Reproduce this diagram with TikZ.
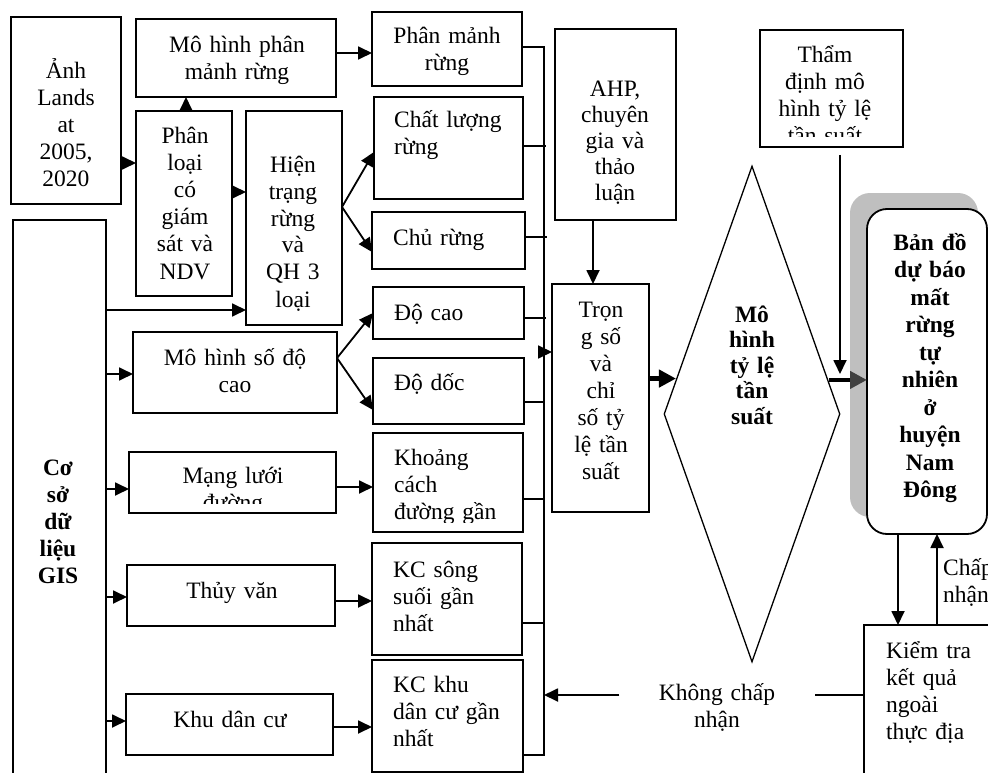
\documentclass[tikz,border=0pt]{standalone}
\usepackage{fontspec}
\setmainfont{Liberation Serif}
\usetikzlibrary{arrows.meta,shapes.geometric}
\newcommand{\mkbox}[6][]{\node[box,#1,minimum width={#5-#3},minimum height={#6-#4}] (#2) at ({(#3+#5)/2},{(#4+#6)/2}) {};}
\tikzset{
  box/.style={draw,rectangle,line width=1.8pt,inner sep=0pt,outer sep=0pt},
  ctxt/.style={inner sep=0pt,text width=220pt,align=center,anchor=base,font=\fontsize{23.5}{27}\selectfont},
  ltxt/.style={inner sep=0pt,text width=160pt,align=left,anchor=base west,font=\fontsize{23.5}{27}\selectfont},
  arr/.style={line width=1.8pt,-{Triangle[length=14pt,width=13pt]}},
  bigarr/.style={line width=4.5pt,-{Triangle[length=17pt,width=17pt]}},
  wire/.style={line width=1.1pt}
}
\begin{document}
\begin{tikzpicture}[x=1pt,y=-1pt]
\useasboundingbox (0,0) rectangle (988,773);
\fill[white] (0,0) rectangle (988,773);
\clip (0,0) rectangle (988,773);

% shadow of result box
\fill[black!25,rounded corners=20pt] (850,193) rectangle (978,517);

% boxes
\mkbox{anh}{11}{17}{121}{204}
\mkbox{mhpm}{136}{19}{336}{97}
\mkbox{phanloai}{136}{111}{232}{296}
\mkbox{hientrang}{246}{111}{342}{325}
\mkbox{gis}{13}{220}{106}{800}
\mkbox{mhsdc}{133}{332}{337}{413}
\mkbox{mangluoi}{129}{452}{336}{513}
\mkbox{thuyvan}{127}{565}{335}{626}
\mkbox{khudancu}{126}{694}{333}{755}
\mkbox{pmr}{372}{12}{522}{86}
\mkbox{clr}{374}{97}{523}{199}
\mkbox{churung}{372}{212}{525}{269}
\mkbox{docao}{373}{287}{524}{339}
\mkbox{dodoc}{373}{358}{524}{424}
\mkbox{khoangcach}{373}{433}{523}{532}
\mkbox{kcsong}{372}{543}{522}{655}
\mkbox{kckhu}{372}{660}{523}{772}
\mkbox{ahp}{555}{29}{676}{220}
\mkbox[line width=2.2pt]{trongso}{552}{284}{649}{512}
\mkbox{thamdinh}{760}{30}{903}{147}
\mkbox[line width=1.3pt]{kiemtra}{864}{625}{1000}{800}
\mkbox[rounded corners=20pt,fill=white]{bando}{867}{209}{987}{534}
\node[draw,diamond,aspect=0.3548,minimum width=176pt,minimum height=496pt,inner sep=0pt,line width=1.3pt] (diam) at (752,414) {};

% texts
\node[ctxt] (t-anh) at (66,79) {Ảnh\\Lands\\at\\2005,\\2020};
\node[ctxt] (t-mhpm) at (237,53) {Mô hình phân\\mảnh rừng};
\node[ctxt] (t-pl) at (185,144) {Phân\\loại\\có\\giám\\sát và\\NDV};
\node[ctxt] (t-ht) at (293,172) {Hiện\\trạng\\rừng\\và\\QH 3\\loại};
\node[ctxt,font=\fontsize{23.5}{27}\selectfont\bfseries] (t-gis) at (58,475) {Cơ\\sở\\dữ\\liệu\\GIS};
\node[ctxt] (t-mhs) at (235,365) {Mô hình số độ\\cao};
\begin{scope}
\clip (131,454) rectangle (334,503);
\node[ctxt] (t-ml) at (233,483) {Mạng lưới\\đường};
\end{scope}
\node[ctxt] (t-tv) at (232,598) {Thủy văn};
\node[ctxt] (t-kdc) at (230,727) {Khu dân cư};
\node[ctxt] (t-pmr) at (447,44) {Phân mảnh\\rừng};
\node[ltxt] (t-clr) at (394,128) {Chất lượng\\rừng};
\node[ltxt] (t-cr) at (393,245) {Chủ rừng};
\node[ltxt] (t-dc) at (394,320) {Độ cao};
\node[ltxt] (t-dd) at (394,390) {Độ dốc};
\begin{scope}
\clip (375,435) rectangle (521,522);
\node[ltxt] (t-kc) at (394,465) {Khoảng\\cách\\đường gần};
\end{scope}
\node[ltxt] (t-kcs) at (393,577) {KC sông\\suối gần\\nhất};
\node[ltxt] (t-kck) at (393,692) {KC khu\\dân cư gần\\nhất};
\node[ctxt,font=\fontsize{23.5}{26}\selectfont] (t-ahp) at (615,97) {AHP,\\chuyên\\gia và\\thảo\\luận};
\node[ctxt] (t-ts) at (601,317) {Trọn\\g số\\và\\chỉ\\số tỷ\\lệ tần\\suất};
\node[ctxt,font=\fontsize{23.5}{25.5}\selectfont\bfseries] (t-diam) at (752,322) {Mô\\hình\\tỷ lệ\\tần\\suất};
\begin{scope}
\clip (762,32) rectangle (901,137);
\node[ctxt] (t-td) at (825,63) {Thẩm\\định mô\\hình tỷ lệ\\tần suất};
\end{scope}
\node[ctxt,font=\fontsize{23.5}{27.5}\selectfont\bfseries] (t-bd) at (930,250) {Bản đồ\\dự báo\\mất\\rừng\\tự\\nhiên\\ở\\huyện\\Nam\\Đông};
\node[ltxt] (t-kt) at (886,658) {Kiểm tra\\kết quả\\ngoài\\thực địa};
\node[ltxt] (t-cn) at (943,575) {Chấp\\nhận};
\node[ctxt,text width=195pt] (khong) at (717,700) {Không chấp\\nhận};

% bus (collector line)
\coordinate (bustop) at (544,47);
\coordinate (busbot) at (544,755);
\draw[wire] (pmr.east |- bustop) -- (bustop) -- (busbot) -- (kckhu.east |- busbot);
\draw[wire] (clr.east |- 0,146) -- (546,146);
\draw[wire] (churung.east |- 0,237) -- (547,237);
\draw[wire] (docao.east |- 0,318) -- (546,318);
\draw[wire] (dodoc.east |- 0,402) -- (bustop |- 0,402);
\draw[wire] (khoangcach.east |- 0,499) -- (bustop |- 0,499);
\draw[wire] (kcsong.east |- 0,623) -- (bustop |- 0,623);

% arrows
\draw[arr] (anh.east |- 0,163) -- (phanloai.west |- 0,163);
\draw[arr] (phanloai.north -| 186,0) -- (mhpm.south -| 186,0);
\draw[arr] (phanloai.east |- 0,192) -- (hientrang.west |- 0,192);
\draw[arr] (mhpm.east |- 0,53) -- (pmr.west |- 0,53);
\draw[arr] (gis.east |- 0,310) -- (hientrang.west |- 0,310);
\draw[arr] (hientrang.east |- 0,207) -- (clr.west |- 0,152);
\draw[arr] (hientrang.east |- 0,207) -- (churung.west |- 0,252);
\draw[arr] (gis.east |- 0,374) -- (mhsdc.west |- 0,374);
\draw[arr] (mhsdc.east |- 0,358) -- (docao.west |- 0,313);
\draw[arr] (mhsdc.east |- 0,358) -- (dodoc.west |- 0,410);
\draw[arr] (gis.east |- 0,489) -- (mangluoi.west |- 0,489);
\draw[arr] (mangluoi.east |- 0,487) -- (khoangcach.west |- 0,487);
\draw[arr] (gis.east |- 0,597) -- (thuyvan.west |- 0,597);
\draw[arr] (thuyvan.east |- 0,601) -- (kcsong.west |- 0,601);
\draw[arr] (gis.east |- 0,721) -- (khudancu.west |- 0,721);
\draw[arr] (khudancu.east |- 0,727) -- (kckhu.west |- 0,727);
\draw[arr] (bustop |- 0,352) -- (trongso.west |- 0,352);
\draw[arr] (ahp.south -| 593,0) -- (trongso.north -| 593,0);
\draw[bigarr] (trongso.east |- diam.155.87) -- (diam.155.87);
\draw[line width=4.5pt,-{Triangle[length=17pt,width=17pt,color=black!75]}] (diam.24.13) -- (bando.west |- diam.24.13);
\coordinate (tdend) at (840,374);
\draw[arr,shorten <=8pt] (thamdinh.south -| tdend) -- (tdend);
\draw[arr] (bando.south -| 898,0) -- (kiemtra.north -| 898,0);
\draw[arr] (kiemtra.north -| 937,0) -- (bando.south -| 937,0);
\draw[line width=1.5pt] (kiemtra.west |- 0,695) -- (khong.east |- 0,695);
\draw[arr] (khong.west |- 0,695) -- (bustop |- 0,695);
\end{tikzpicture}
\end{document}
